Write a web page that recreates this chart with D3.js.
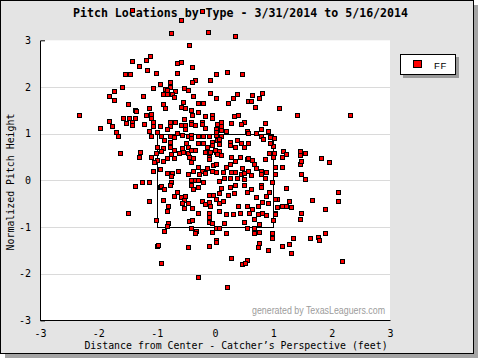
<!DOCTYPE html>
<html>
<head>
<meta charset="utf-8">
<script src="https://cdn.jsdelivr.net/npm/d3@7"></script>
<style>
  html, body { margin: 0; padding: 0; background: #ffffff; }
  svg { display: block; }
</style>
</head>
<body>
<svg id="chart" width="480" height="360"></svg>
<script>
// ---------------- DATA ----------------
const chartTitle = "Pitch Locations by Type - 3/31/2014 to 5/16/2014";
const xAxisTitle = "Distance from Center - Catcher\u2019s Perspective (feet)";
const yAxisTitle = "Normalized Pitch Height";
const categories = ["FF"];
const xTicks = [-3, -2, -1, 0, 1, 2, 3];
const xTickLabels = ["-3", "-2", "-1", "0", "1", "2", "3"];
const yTicks = [-3, -2, -1, 0, 1, 2, 3];
const yTickLabels = ["-3", "-2", "-1", "0", "1", "2", "3"];
const gridValues = [-2, -1, 0, 1, 2];
const strikeZoneX = [-1, 1];
const strikeZoneY = [-1, 1];
const watermark = "generated by TexasLeaguers.com";

// horizontal location (feet) of each FF pitch
const pitchX = [
 -1.43,-0.23,-0.59,-0.75,-0.12, 0.35,-0.44,-1.11,-1.18,-1.43,
 -0.58,-0.65,-1.30,-0.39,-1.16,-1.01,-0.65,-1.54,-1.45, 0.02,
  0.21, 0.47,-0.34,-0.39,-0.08,-0.77,-0.94,-1.59,-0.78,-0.85,
 -0.82,-1.07,-0.68,-0.53,-0.46,-1.73,-0.89,-0.82,-0.73,-0.08,
 -1.81,-1.74,-1.23,-0.70,-0.37, 0.02,-0.54,-0.30,-0.20,-1.50,
 -0.90,-0.58,-0.51,-1.14,-0.85,-1.38,-1.35,-2.33,-0.41,-0.29,
 -0.06,-1.18,-1.09,-0.39,-0.17,-1.57,-1.47,-1.38,-1.09,-1.81,
 -0.78,-0.68,-0.53,-0.42,-0.23,-0.05, 0.03,-1.52,-1.42,-1.43,
 -1.21,-1.06,-1.07,-0.94,-0.77,-0.58,-0.51,-0.41,-0.35,-0.22,
 -0.17,-1.98,-1.76,-0.83,-0.51, 0.02,-1.69,-1.66,-1.14,-0.99,
 -1.09,-0.92,-0.78,-0.65,-0.71,-0.56,-0.47,-0.41,-0.30,-0.20,
 -0.10, 0.01,-0.87,-0.77,-0.49,-0.41,-0.29,-0.20,-0.06, 0.04,
 -0.05,-0.99,-0.89,-0.78,-0.71,-0.56,-0.47,-0.35,-0.13,-1.62,
 -1.28,-1.01,-0.92,-0.61,-0.54,-0.13, 0.01, 0.38, 0.31, 0.23,
  0.64, 0.81, 0.76, 0.57, 0.61, 0.69, 1.09, 1.41, 2.32, 0.33,
  0.40, 0.50, 0.45, 0.28, 0.86, 0.11, 0.11, 0.11, 0.19, 0.02,
  0.78, 0.54, 0.57, 0.71, 0.91, 0.79, 0.95, 1.02, 0.83, 0.11,
  0.07, 0.38, 0.45, 0.57, 0.26, 0.25, 0.35, 0.49, 0.06, 0.06,
  1.00, 0.95, 0.93, 1.02, 1.17, 1.22, 1.45, 1.55, 0.00,-1.31,
 -1.09,-0.99,-1.04,-0.89,-0.82,-0.75,-0.71,-0.47,-0.41,-0.44,
 -0.37,-0.41,-0.18,-0.11,-0.08,-0.10, 0.04,-0.03, 0.01,-0.30,
 -0.22,-0.13,-0.06, 0.01,-0.37,-0.46,-0.27,-0.17,-1.07,-0.95,
 -0.83,-0.73,-0.63,-0.75,-0.75,-0.77,-0.94,-0.92,-0.87,-1.25,
 -1.13,-1.37,-0.42,-0.35,-0.29,-0.20, 0.06,-0.41,-0.30,-0.37,
 -0.66,-0.70,-0.59,-0.51,-0.10,-0.03, 0.06, 0.02,-0.90,-1.14,
 -0.53,-0.56,-0.47,-0.23,-0.10,-0.17,-0.08, 0.06,-0.80,-0.53,
 -0.39,-0.83,-1.49,-0.29,-0.10, 0.06,-0.11,-1.02,-0.44,-0.39,
 -0.10,-0.06,-0.80,-0.82,-0.41,-0.32,-0.35,-0.87, 0.01, 0.07,
 -0.06,-0.99,-0.97,-0.46,-0.10, 0.01, 0.02,-0.92,-0.30, 0.11,
  0.28, 0.42, 0.55, 0.64, 0.57, 0.26, 0.35, 0.19, 0.47, 0.67,
  0.86, 1.00, 1.15, 1.46, 1.45, 1.48, 1.82, 1.96, 1.03, 1.15,
  0.71, 0.13, 0.28, 0.35, 0.45, 0.50, 0.57, 0.62, 0.78, 0.88,
  0.78, 1.03, 0.85, 0.16, 0.26, 0.37, 0.49, 0.49, 0.35, 0.25,
  0.11, 0.61, 0.54, 0.78, 0.79, 0.97, 1.21, 1.48, 1.55, 0.23,
  0.33, 0.13, 0.71, 0.88, 0.93, 0.81, 0.91, 0.55, 0.40, 0.74,
  1.07, 1.03, 1.15, 1.21, 1.26, 1.31, 1.07, 1.03, 1.03, 0.64,
  0.59, 0.74, 0.81, 0.88, 0.18, 0.31, 0.43, 0.66, 1.00, 0.50,
  0.16, 0.54, 0.76, 0.18, 0.67, 0.67, 0.76, 0.97, 0.98, 1.33,
  1.63, 1.77, 1.79, 1.89, 1.48, 1.45, 1.67, 1.89, 2.11, 2.10,
  0.76, 0.74, 1.15, 1.27, 0.91, 1.31, 0.28, 0.54, 0.47, 0.51,
  2.18, 0.21
];

// normalized height of each FF pitch
const pitchY = [
  3.65, 3.62, 3.43, 3.15, 3.17, 3.09, 2.91, 2.66, 2.57, 2.55,
  2.53, 2.51, 2.46, 2.42, 2.36, 2.31, 2.31, 2.27, 2.27, 2.27,
  2.33, 2.28, 2.14, 2.10, 2.16, 2.10, 2.06, 2.01, 1.99, 1.95,
  1.93, 1.97, 1.91, 1.97, 1.93, 1.91, 1.84, 1.84, 1.86, 1.88,
  1.80, 1.73, 1.80, 1.78, 1.80, 1.76, 1.67, 1.65, 1.65, 1.63,
  1.63, 1.58, 1.56, 1.54, 1.54, 1.50, 1.48, 1.41, 1.50, 1.46,
  1.41, 1.39, 1.43, 1.39, 1.37, 1.33, 1.33, 1.33, 1.33, 1.28,
  1.26, 1.26, 1.31, 1.24, 1.24, 1.33, 1.20, 1.22, 1.24, 1.18,
  1.20, 1.24, 1.16, 1.16, 1.16, 1.18, 1.18, 1.20, 1.18, 1.20,
  1.13, 1.13, 1.16, 1.11, 1.09, 1.11, 1.03, 0.94, 1.05, 1.03,
  0.94, 0.94, 0.96, 1.01, 0.92, 0.98, 0.96, 0.98, 0.94, 0.94,
  0.96, 0.98, 0.86, 0.83, 0.79, 0.90, 0.79, 0.79, 0.83, 0.86,
  0.75, 0.71, 0.69, 0.71, 0.64, 0.69, 0.71, 0.66, 0.71, 0.58,
  0.60, 0.58, 0.62, 0.58, 0.60, 0.60, 0.60, 1.84, 1.76, 1.65,
  1.82, 1.88, 1.76, 1.69, 1.71, 1.58, 1.54, 1.41, 1.41, 1.37,
  1.39, 1.26, 1.20, 1.22, 1.22, 1.24, 1.16, 1.07, 1.05, 1.03,
  1.09, 1.05, 1.01, 1.01, 1.05, 0.96, 0.92, 0.90, 0.88, 0.94,
  0.88, 0.86, 0.81, 0.81, 0.83, 0.75, 0.71, 0.71, 0.77, 0.62,
  0.73, 0.81, 0.58, 0.58, 0.62, 0.56, 0.62, 0.58, 0.66, 0.51,
  0.49, 0.43, 0.39, 0.41, 0.47, 0.56, 0.47, 0.58, 0.65, 0.49,
  0.47, 0.39, 0.60, 0.51, 0.60, 0.45, 0.56, 0.32, 0.36, 0.28,
  0.21, 0.26, 0.19, 0.17, 0.19, 0.13, 0.13, 0.15, 0.21, 0.24,
  0.15, 0.15, 0.19, 0.09,-0.04,-0.11,-0.15,-0.13,-0.19,-0.04,
 -0.04,-0.13, 0.00, 0.00, 0.00,-0.04,-0.02,-0.11,-0.15,-0.19,
 -0.24,-0.34,-0.36,-0.34,-0.32,-0.32,-0.28,-0.41,-0.43,-0.45,
 -0.43,-0.49,-0.49,-0.45,-0.47,-0.51,-0.56,-0.49,-0.54,-0.60,
 -0.60,-0.66,-0.71,-0.71,-0.71,-0.66,-0.79,-0.86,-0.88,-0.86,
 -0.90,-0.92,-0.92,-0.98,-1.03,-1.09,-1.13,-1.09,-1.03,-1.03,
 -1.11,-1.41,-1.39,-1.43,-1.41,-1.28,-1.33,-1.76,-2.08, 0.54,
  0.49, 0.49, 0.45, 0.43, 0.47, 0.36, 0.41, 0.28, 0.26, 0.34,
  0.45, 0.51, 0.51, 0.54, 0.36, 0.41, 0.47, 0.39, 0.28, 0.28,
  0.26, 0.17, 0.17, 0.17, 0.13, 0.15, 0.19, 0.11, 0.21, 0.17,
  0.13, 0.13, 0.04, 0.04, 0.04, 0.04, 0.02,-0.09,-0.11,-0.15,
 -0.17,-0.19,-0.24,-0.11,-0.15,-0.04,-0.17, 0.13, 0.02,-0.32,
 -0.28,-0.45,-0.36,-0.34,-0.26,-0.47,-0.49,-0.54,-0.56,-0.54,
 -0.39,-0.41,-0.54,-0.56,-0.45,-0.58,-0.58,-0.69,-0.73,-0.62,
 -0.69,-0.73,-0.69,-0.75,-0.73,-0.73,-0.71,-0.83,-0.86,-0.90,
 -0.92,-1.01,-0.94,-1.13,-1.03,-1.13,-1.11,-1.13,-1.24,-1.24,
 -1.24,-1.22,-1.28,-1.13,-0.69,-0.83,-0.43,-0.62,-0.26,-0.45,
 -1.35,-1.43,-1.41,-1.37,-1.50,-1.56,-1.67,-1.71,-1.80,-1.78,
 -1.73,-2.29
];

// ---------------- CHART ----------------
const svg = d3.select("#chart");
const mono = "'DejaVu Sans Mono', monospace";
const sans = "'Liberation Sans', Arial, sans-serif";

const x = d3.scaleLinear().domain([-3, 3]).range([40, 390]);
const y = d3.scaleLinear().domain([-3, 3]).range([320.4, 40.3]);

// frame + shadow
svg.append("rect").attr("x", 5).attr("y", 5).attr("width", 473).attr("height", 353)
  .attr("fill", "#a4a4a4");
svg.append("rect").attr("x", 0.5).attr("y", 0.5).attr("width", 473).attr("height", 353)
  .attr("fill", "#e4e4e4").attr("stroke", "#000").attr("stroke-width", 1);

// title (points overlap it in the reference, so it goes first)
svg.append("text")
  .attr("x", 240.5).attr("y", 17).attr("text-anchor", "middle")
  .attr("font-family", mono).attr("font-weight", "bold")
  .attr("font-size", 11.6).attr("fill", "#000").text(chartTitle);

// plot area
svg.append("rect")
  .attr("x", x(-3)).attr("y", y(3))
  .attr("width", x(3) - x(-3)).attr("height", y(-3) - y(3))
  .attr("fill", "#ffffff");

// gridlines
svg.append("g").selectAll("line").data(gridValues).join("line")
  .attr("x1", x(-3)).attr("x2", x(3))
  .attr("y1", d => Math.round(y(d)) + 0.5).attr("y2", d => Math.round(y(d)) + 0.5)
  .attr("stroke", "#dadada").attr("stroke-width", 1);

// strike zone
svg.append("rect")
  .attr("x", Math.round(x(strikeZoneX[0])) + 0.5)
  .attr("y", Math.round(y(strikeZoneY[1])) + 0.5)
  .attr("width", Math.round(x(strikeZoneX[1])) - Math.round(x(strikeZoneX[0])))
  .attr("height", Math.round(y(strikeZoneY[0])) - Math.round(y(strikeZoneY[1])))
  .attr("fill", "none").attr("stroke", "#000").attr("stroke-width", 1);

// axes
const xAxis = d3.axisBottom(x).tickValues(xTicks)
  .tickFormat((d, i) => xTickLabels[i]).tickSize(0).tickSizeOuter(0).tickPadding(10);
const gx = svg.append("g").attr("transform", `translate(0,${Math.round(y(-3))})`).call(xAxis);
gx.select(".domain").attr("stroke", "#000");
gx.selectAll("text").attr("font-family", mono).attr("font-size", 10).attr("fill", "#000");

const yAxis = d3.axisLeft(y).tickValues(yTicks)
  .tickFormat((d, i) => yTickLabels[i]).tickSize(0).tickSizeOuter(-5).tickPadding(9);
const gy = svg.append("g").attr("transform", `translate(${x(-3)},0)`).call(yAxis);
gy.select(".domain").attr("stroke", "#000");
gy.selectAll("text").attr("font-family", mono).attr("font-size", 10).attr("fill", "#000");

// axis titles
svg.append("text").attr("x", 236).attr("y", 349).attr("text-anchor", "middle")
  .attr("font-family", mono).attr("font-size", 9.9).attr("fill", "#000").text(xAxisTitle);
svg.append("text").attr("transform", "translate(13.5,182) rotate(-90)").attr("text-anchor", "middle")
  .attr("font-family", mono).attr("font-size", 9.9).attr("fill", "#000").text(yAxisTitle);

// watermark
svg.append("text").attr("x", 385).attr("y", 314).attr("text-anchor", "end")
  .attr("font-family", sans).attr("font-size", 11.5).attr("fill", "#9c9c9c")
  .attr("textLength", 133).attr("lengthAdjust", "spacingAndGlyphs").text(watermark);

// points
const pts = pitchX.map((v, i) => ({ x: v, y: pitchY[i] }));
svg.append("g").selectAll("rect").data(pts).join("rect")
  .attr("x", d => Math.round(x(d.x)) - 1.5)
  .attr("y", d => Math.round(y(d.y)) - 1.5)
  .attr("width", 4).attr("height", 4)
  .attr("fill", "#ff0000").attr("stroke", "#000").attr("stroke-width", 1);

// legend
const lg = svg.append("g");
lg.append("rect").attr("x", 403).attr("y", 57).attr("width", 56).attr("height", 21).attr("fill", "#9a9a9a");
lg.append("rect").attr("x", 400.5).attr("y", 54.5).attr("width", 55).attr("height", 20)
  .attr("fill", "#ffffff").attr("stroke", "#000").attr("stroke-width", 1);
lg.selectAll("rect.key").data(categories).join("rect").attr("class", "key")
  .attr("x", 413.5).attr("y", 60.5).attr("width", 8).attr("height", 7)
  .attr("fill", "#ff0000").attr("stroke", "#000").attr("stroke-width", 1);
lg.selectAll("text").data(categories).join("text")
  .attr("x", 434).attr("y", 68.5)
  .attr("font-family", sans).attr("font-size", 9.5).attr("letter-spacing", 0.8).attr("fill", "#000")
  .text(d => d);
</script>
</body>
</html>
